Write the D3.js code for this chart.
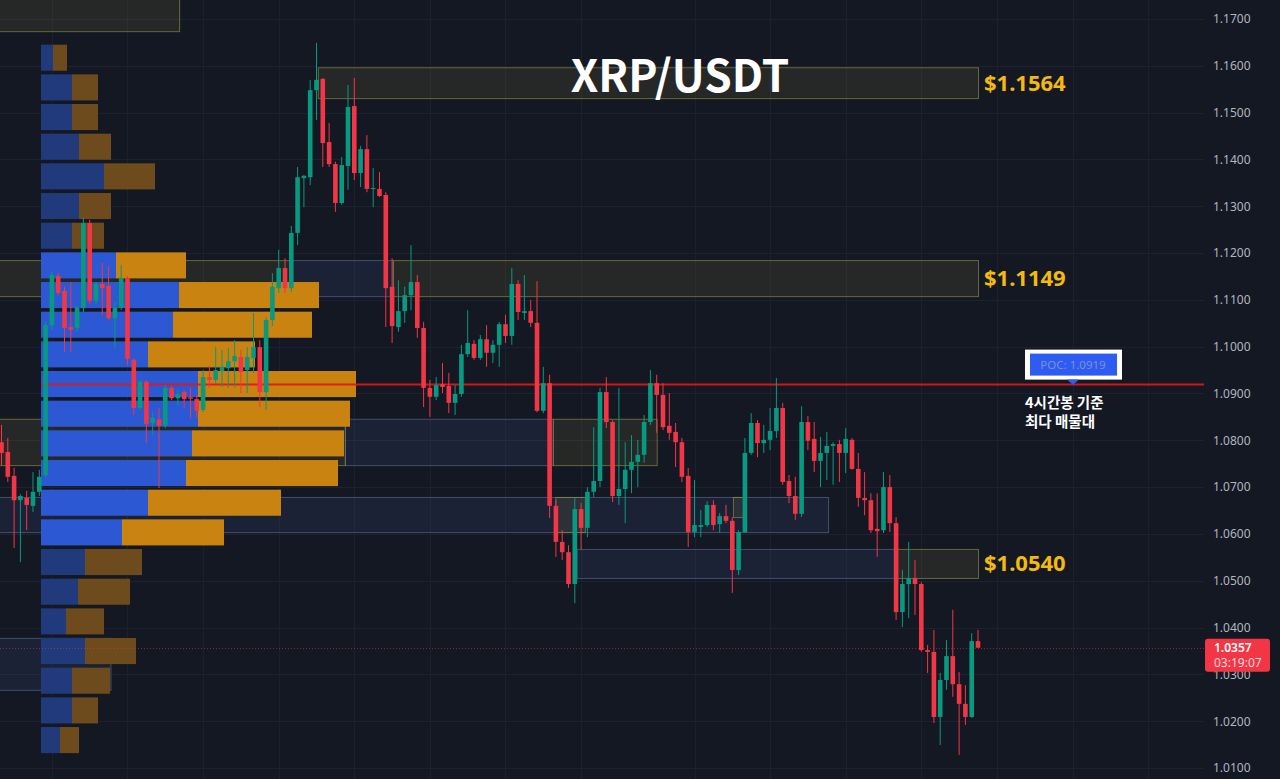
<!DOCTYPE html>
<html><head><meta charset="utf-8">
<script src="https://cdn.jsdelivr.net/npm/d3@7"></script>
<style>html,body{margin:0;padding:0;background:#141823;overflow:hidden}</style>
</head><body><svg id="c" width="1280" height="779"></svg>
<script>
// ---- candle data (4h, XRP/USDT) ----
const opens = [1.0796,1.0775,1.0724,1.0672,1.0677,1.0660,1.0690,1.0726,1.1046,1.1151,1.1119,1.1042,1.1040,1.1083,1.1264,1.1098,1.1134,1.1130,1.1061,1.1083,
1.1147,1.0972,1.0869,1.0925,1.0837,1.0845,1.0831,1.0912,1.0890,1.0903,1.0892,1.0888,1.0865,1.0935,1.0929,1.0948,1.0954,1.0969,1.0978,1.0950,
1.0976,1.0999,1.0903,1.1057,1.1125,1.1168,1.1125,1.1243,1.1360,1.1362,1.1548,1.1572,1.1437,1.1390,1.1307,1.1386,1.1514,1.1371,1.1422,1.1337,
1.1337,1.1324,1.1128,1.1042,1.1076,1.1110,1.1138,1.1040,1.0912,1.0893,1.0920,1.0916,1.0880,1.0899,1.0984,1.1006,1.0976,1.1016,1.0987,1.1004,
1.1048,1.1023,1.1134,1.1072,1.1076,1.1051,1.0863,1.0922,1.0660,1.0583,1.0561,1.0493,1.0653,1.0613,1.0690,1.0713,1.0903,1.0839,1.0681,1.0696,
1.0737,1.0754,1.0769,1.0839,1.0922,1.0897,1.0831,1.0818,1.0796,1.0724,1.0604,1.0615,1.0619,1.0662,1.0621,1.0638,1.0628,1.0523,1.0604,1.0773,
1.0837,1.0794,1.0801,1.0820,1.0869,1.0713,1.0681,1.0643,1.0839,1.0803,1.0756,1.0773,1.0788,1.0792,1.0773,1.0801,1.0739,1.0677,1.0672,1.0611,
1.0608,1.0700,1.0623,1.0433,1.0493,1.0506,1.0493,1.0352,1.0348,1.0209,1.0288,1.0339,1.0279,1.0237,1.0209,1.0371];
const closes = [1.0773,1.0722,1.0672,1.0681,1.0662,1.0690,1.0722,1.1046,1.1153,1.1115,1.1040,1.1036,1.1083,1.1264,1.1098,1.1134,1.1125,1.1061,1.1083,1.1147,
1.0974,1.0869,1.0925,1.0835,1.0848,1.0831,1.0912,1.0890,1.0899,1.0888,1.0889,1.0863,1.0935,1.0929,1.0950,1.0957,1.0969,1.0980,1.0946,1.0978,
1.0999,1.0903,1.1057,1.1128,1.1168,1.1125,1.1243,1.1362,1.1365,1.1548,1.1570,1.1435,1.1390,1.1307,1.1388,1.1512,1.1371,1.1422,1.1337,1.1339,
1.1322,1.1125,1.1044,1.1076,1.1110,1.1138,1.1040,1.0912,1.0893,1.0918,1.0914,1.0880,1.0899,1.0984,1.1008,1.0976,1.1016,1.0987,1.1004,1.1048,
1.1023,1.1134,1.1074,1.1076,1.1051,1.0863,1.0922,1.0660,1.0583,1.0561,1.0493,1.0653,1.0613,1.0690,1.0713,1.0903,1.0839,1.0681,1.0696,1.0737,
1.0754,1.0769,1.0839,1.0922,1.0897,1.0828,1.0816,1.0796,1.0722,1.0604,1.0619,1.0619,1.0662,1.0619,1.0638,1.0628,1.0523,1.0604,1.0773,1.0837,
1.0794,1.0801,1.0820,1.0869,1.0711,1.0681,1.0643,1.0839,1.0799,1.0756,1.0773,1.0788,1.0792,1.0773,1.0803,1.0739,1.0677,1.0672,1.0608,1.0606,
1.0700,1.0623,1.0433,1.0493,1.0506,1.0493,1.0352,1.0348,1.0209,1.0288,1.0339,1.0279,1.0237,1.0209,1.0371,1.0357];
const highs = [1.0833,1.0805,1.0741,1.0685,1.0692,1.0732,1.0737,1.1053,1.1160,1.1157,1.1128,1.1138,1.1087,1.1275,1.1271,1.1138,1.1179,1.1172,1.1095,1.1175,
1.1151,1.0976,1.0929,1.0929,1.0860,1.0869,1.0918,1.0916,1.0907,1.0907,1.0912,1.0897,1.0950,1.0959,1.0999,1.0993,1.0997,1.1014,1.0993,1.0999,
1.1072,1.1014,1.1063,1.1157,1.1207,1.1189,1.1258,1.1384,1.1367,1.1570,1.1649,1.1574,1.1478,1.1395,1.1405,1.1559,1.1574,1.1429,1.1452,1.1382,
1.1373,1.1330,1.1189,1.1142,1.1128,1.1217,1.1153,1.1053,1.0929,1.0935,1.0965,1.0944,1.0918,1.1004,1.1078,1.1014,1.1025,1.1046,1.1014,1.1053,
1.1068,1.1168,1.1142,1.1153,1.1100,1.1140,1.0957,1.0940,1.0672,1.0608,1.0576,1.0677,1.0666,1.0700,1.0828,1.0912,1.0935,1.0843,1.0912,1.0796,
1.0811,1.0801,1.0854,1.0950,1.0940,1.0922,1.0901,1.0837,1.0805,1.0741,1.0715,1.0651,1.0670,1.0672,1.0645,1.0662,1.0636,1.0608,1.0805,1.0858,
1.0843,1.0833,1.0869,1.0933,1.0880,1.0726,1.0722,1.0873,1.0852,1.0839,1.0807,1.0818,1.0796,1.0801,1.0826,1.0805,1.0773,1.0732,1.0687,1.0687,
1.0732,1.0726,1.0636,1.0523,1.0583,1.0544,1.0497,1.0363,1.0395,1.0303,1.0373,1.0438,1.0305,1.0277,1.0388,1.0395];
const lows = [1.0747,1.0711,1.0570,1.0540,1.0608,1.0647,1.0681,1.0720,1.1036,1.1110,1.0989,1.0989,1.1032,1.1074,1.1091,1.1091,1.1068,1.1057,1.0997,1.1078,
1.0961,1.0854,1.0865,1.0794,1.0811,1.0698,1.0826,1.0886,1.0875,1.0869,1.0848,1.0848,1.0860,1.0912,1.0922,1.0914,1.0912,1.0912,1.0901,1.0901,
1.0944,1.0871,1.0865,1.1044,1.1115,1.1115,1.1117,1.1217,1.1298,1.1345,1.1484,1.1384,1.1384,1.1288,1.1303,1.1335,1.1356,1.1341,1.1330,1.1298,
1.1320,1.1042,1.1008,1.1032,1.1051,1.1078,1.1019,1.0871,1.0850,1.0886,1.0901,1.0858,1.0854,1.0893,1.0978,1.0972,1.0972,1.0957,1.0965,1.0957,
1.1008,1.1004,1.1057,1.1057,1.1042,1.0860,1.0858,1.0634,1.0551,1.0544,1.0485,1.0452,1.0566,1.0593,1.0679,1.0700,1.0826,1.0668,1.0662,1.0623,
1.0687,1.0700,1.0752,1.0833,1.0816,1.0822,1.0801,1.0743,1.0711,1.0572,1.0593,1.0593,1.0615,1.0608,1.0602,1.0623,1.0474,1.0512,1.0602,1.0769,
1.0764,1.0773,1.0779,1.0805,1.0705,1.0666,1.0630,1.0636,1.0779,1.0732,1.0700,1.0715,1.0705,1.0711,1.0730,1.0737,1.0658,1.0640,1.0602,1.0551,
1.0602,1.0604,1.0416,1.0401,1.0420,1.0427,1.0348,1.0303,1.0196,1.0149,1.0267,1.0252,1.0128,1.0192,1.0207,1.0356];

// ---- volume profile (rows from highest price to lowest) ----
const buyVol  = [12,31,31,38,63,38,31,75,138,132,107,157,157,151,145,107,81,44,37,25,44,31,31,19];
const sellVol = [14,26,26,32,51,32,32,70,140,139,107,158,152,152,152,133,102,57,52,38,51,38,26,19];
const valueArea = [7, 16];   // row range (inclusive) of the value area
const pocPrice = 1.0919;
const lastPrice = 1.0357;
const countdown = "03:19:07";

// ---- price axis ticks ----
const priceTicks = [1.01,1.02,1.03,1.04,1.05,1.06,1.07,1.08,1.09,1.10,1.11,1.12,1.13,1.14,1.15,1.16,1.17];
const timeGridIdx = [8,20,32,44,56,68,80,92,110,122,134,146,158,170,182];

// ---- zones: kind, fromIdx, toIdx, topPrice, bottomPrice, label ----
const zoneKind  = ['olive','olive','olive','blue','olive','olive','blue','olive','blue','olive','olive','blue','olive','blue'];
const zoneFrom  = [-1, 50.2, -1, 45.8, 62.1, -1, 54.5, 87.5, -1, 87.9, 116.1, 91.3, 142.1, -1];
const zoneTo    = [28.2, 155, 45.8, 62.1, 155, 54.5, 87.5, 104, 131.2, 92.6, 117.7, 142.1, 155, 17.3];
const zoneTop   = [1.1790, 1.1597, 1.1185, 1.1185, 1.1185, 1.0846, 1.0846, 1.0846, 1.0679, 1.0679, 1.0679, 1.0568, 1.0568, 1.0378];
const zoneBot   = [1.1674, 1.1531, 1.1108, 1.1108, 1.1108, 1.0747, 1.0747, 1.0747, 1.0604, 1.0604, 1.0636, 1.0506, 1.0506, 1.0267];
const zoneLabel = ['', '$1.1564', '', '', '$1.1149', '', '', '', '', '', '', '', '$1.0540', ''];

const title = "XRP/USDT";
const noteLines = ["4시간봉 기준", "최다 매물대"];

// ---------------------------------------------------------------
const W = 1280, H = 779, plotRight = 1204;
const svg = d3.select('#c');
const UP = '#089981', DN = '#f23645';

const x = d3.scaleLinear().domain([0, 190]).range([1.5, 1198.5]);
const y = d3.scaleLinear().domain([1.01, 1.17]).range([768, 19]);

svg.append('rect').attr('width', W).attr('height', H).attr('fill', '#141823');

svg.append('defs').append('clipPath').attr('id', 'plot')
  .append('rect').attr('x', 0).attr('y', 0).attr('width', plotRight).attr('height', H);

const plot = svg.append('g').attr('clip-path', 'url(#plot)');

// grid
plot.append('g').selectAll('line').data(priceTicks).join('line')
  .attr('x1', 0).attr('x2', plotRight)
  .attr('y1', d => Math.round(y(d)) + 0.5).attr('y2', d => Math.round(y(d)) + 0.5)
  .attr('stroke', '#1e2230').attr('stroke-width', 1);
plot.append('g').selectAll('line').data(timeGridIdx).join('line')
  .attr('x1', d => Math.round(x(d)) + 0.5).attr('x2', d => Math.round(x(d)) + 0.5)
  .attr('y1', 0).attr('y2', H)
  .attr('stroke', '#1c202c').attr('stroke-width', 1);

// zones
const zones = zoneKind.map((k, i) => ({k, f: zoneFrom[i], t: zoneTo[i], top: zoneTop[i], bot: zoneBot[i], label: zoneLabel[i]}));
plot.append('g').selectAll('rect').data(zones).join('rect')
  .attr('x', d => x(d.f) + 0.5).attr('y', d => y(d.top) + 0.5)
  .attr('width', d => x(d.t) - x(d.f)).attr('height', d => y(d.bot) - y(d.top))
  .attr('fill', d => d.k === 'olive' ? 'rgba(125,125,60,0.17)' : 'rgba(70,100,160,0.14)')
  .attr('stroke', d => d.k === 'olive' ? 'rgba(165,160,75,0.55)' : 'rgba(110,130,170,0.5)')
  .attr('stroke-width', 1);

// volume profile
const nRows = buyVol.length;
const pTop = d3.max(highs), pBot = d3.min(lows);
const rowH = (y(pBot) - y(pTop)) / nRows;
const vx = d3.scaleLinear().domain([0, 320]).range([0, 320]);
const px0 = 41;
const rows = buyVol.map((b, i) => ({i, b, s: sellVol[i], va: i >= valueArea[0] && i <= valueArea[1]}));
const prof = plot.append('g');
prof.selectAll('rect.b').data(rows).join('rect').attr('class', 'b')
  .attr('x', px0).attr('y', d => y(pTop) + d.i * rowH + 1.8)
  .attr('width', d => vx(d.b)).attr('height', rowH - 3.6)
  .attr('fill', d => d.va ? '#2c59d3' : '#213a7c');
prof.selectAll('rect.s').data(rows).join('rect').attr('class', 's')
  .attr('x', d => px0 + vx(d.b)).attr('y', d => y(pTop) + d.i * rowH + 1.8)
  .attr('width', d => vx(d.s)).attr('height', rowH - 3.6)
  .attr('fill', d => d.va ? '#c98310' : '#6d4b1c');

// POC line
plot.append('line').attr('x1', px0).attr('x2', plotRight)
  .attr('y1', y(pocPrice)).attr('y2', y(pocPrice))
  .attr('stroke', '#e3161b').attr('stroke-width', 2).attr('opacity', 0.9);

// last price dotted line
plot.append('line').attr('x1', 0).attr('x2', plotRight)
  .attr('y1', Math.round(y(lastPrice)) + 0.5).attr('y2', Math.round(y(lastPrice)) + 0.5)
  .attr('stroke', '#f23645').attr('stroke-opacity', 0.5).attr('stroke-dasharray', '1 2');

// candles
const candles = opens.map((o, i) => ({i, o, c: closes[i], h: highs[i], l: lows[i]}));
const cg = plot.append('g');
cg.selectAll('line').data(candles).join('line')
  .attr('x1', d => x(d.i)).attr('x2', d => x(d.i))
  .attr('y1', d => y(d.h)).attr('y2', d => y(d.l))
  .attr('stroke', d => d.c >= d.o ? UP : DN).attr('stroke-width', 1);
cg.selectAll('rect').data(candles).join('rect')
  .attr('x', d => x(d.i) - 2.3).attr('width', 4.6)
  .attr('y', d => y(Math.max(d.o, d.c)))
  .attr('height', d => Math.max(1, Math.abs(y(d.o) - y(d.c))))
  .attr('fill', d => d.c >= d.o ? UP : DN);

// zone labels
svg.append('g').selectAll('text').data(zones.filter(z => z.label)).join('text')
  .attr('x', d => x(d.t) + 6).attr('y', d => (y(d.top) + y(d.bot)) / 2)
  .attr('dy', '0.36em')
  .attr('font-family', '"Noto Sans", "DejaVu Sans", sans-serif').attr('font-weight', 700)
  .attr('font-size', 22).attr('fill', '#f4b90f')
  .text(d => d.label);

// title
svg.append('text').attr('x', 680).attr('y', 92).attr('text-anchor', 'middle')
  .attr('font-family', '"Noto Sans CJK KR", "Noto Sans", sans-serif').attr('font-weight', 700)
  .attr('font-size', 44).attr('fill', '#ffffff').text(title);

// POC label
const pocG = svg.append('g');
const pcx = 1073, pcy = y(pocPrice);
pocG.append('rect').attr('x', pcx - 48).attr('y', pcy - 35).attr('width', 97).attr('height', 30).attr('fill', '#ffffff');
pocG.append('rect').attr('x', pcx - 43).attr('y', pcy - 31).attr('width', 87).attr('height', 22).attr('fill', '#2f5cf0');
pocG.append('path').attr('d', `M${pcx-6},${pcy-5}L${pcx+6},${pcy-5}L${pcx},${pcy+0.5}Z`).attr('fill', '#2f5cf0');
pocG.append('text').attr('x', pcx).attr('y', pcy - 16).attr('text-anchor', 'middle')
  .attr('font-family', '"Noto Sans", sans-serif').attr('font-size', 11.5).attr('fill', '#7d90d8')
  .text('POC: ' + d3.format('.4f')(pocPrice));

// Korean annotation
svg.append('g').selectAll('text').data(noteLines).join('text')
  .attr('x', 1025).attr('y', (d, i) => pcy + 23 + i * 19.5)
  .attr('font-family', '"Noto Sans CJK KR", sans-serif').attr('font-weight', 700)
  .attr('font-size', 14.5).attr('fill', '#ffffff').text(d => d);

// price axis
const axis = d3.axisRight(y).tickValues(priceTicks).tickFormat(d3.format('.4f')).tickSize(0).tickPadding(0);
const ag = svg.append('g').attr('transform', 'translate(1213,0)').call(axis);
ag.select('.domain').remove();
ag.selectAll('text').attr('font-family', '"Noto Sans", sans-serif').attr('font-size', 12).attr('fill', '#b2b5be');

// last price tag
const ly = y(lastPrice);
svg.append('rect').attr('x', 1205).attr('y', ly - 9).attr('width', 65).attr('height', 33).attr('rx', 3).attr('fill', '#f23645');
svg.append('text').attr('x', 1214).attr('y', ly + 4.5).attr('font-family', '"Noto Sans", sans-serif')
  .attr('font-size', 12).attr('font-weight', 600).attr('fill', '#ffffff').text(d3.format('.4f')(lastPrice));
svg.append('text').attr('x', 1214).attr('y', ly + 19.5).attr('font-family', '"Noto Sans", sans-serif')
  .attr('font-size', 12).attr('fill', '#ffd9dd').text(countdown);
</script></body></html>
